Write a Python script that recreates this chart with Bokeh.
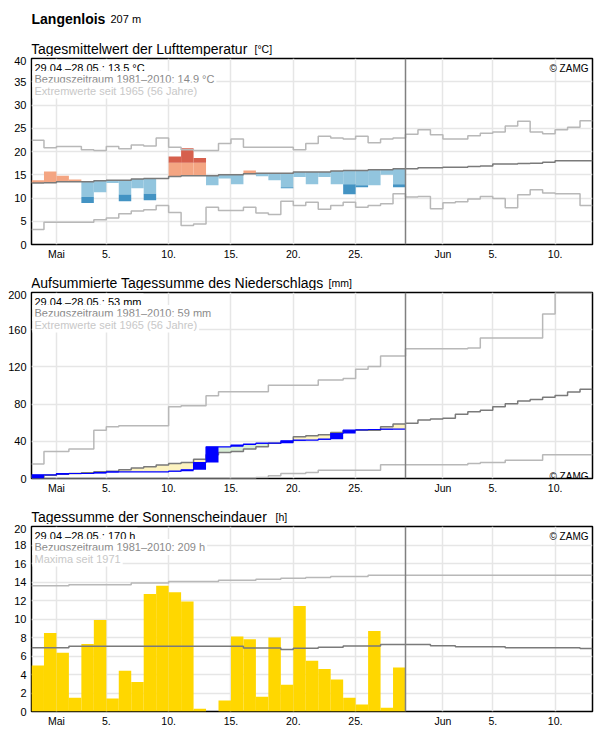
from datetime import date
from bokeh.plotting import figure
from bokeh.layouts import column
from bokeh.models import Range1d, FixedTicker, Label, Span
from bokeh.embed import file_html
from bokeh.resources import INLINE

FONT = "Liberation Sans"

# ---------------- data ----------------
start_day = date(2021, 4, 29)
today = date(2021, 5, 29)
end_day = date(2021, 6, 13)

tick_dates = [date(2021, 5, 1), date(2021, 5, 5), date(2021, 5, 10), date(2021, 5, 15),
              date(2021, 5, 20), date(2021, 5, 25), date(2021, 6, 1), date(2021, 6, 5),
              date(2021, 6, 10)]
tick_labels = ["Mai", "5.", "10.", "15.", "20.", "25.", "Jun", "5.", "10."]

station = "Langenlois"
altitude = "207 m"

# Temperature (daily mean, Apr 29 - May 28)
temp_values = [13.8, 15.7, 14.8, 14.0, 8.9, 11.25, 13.2, 9.3, 12.1, 9.5,
               14.2, 18.9, 20.7, 18.6, 12.76, 14.2, 12.97, 15.9, 14.7, 13.8,
               12.1, 14.5, 12.97, 14.5, 12.97, 10.8, 12.3, 12.76, 15.0, 12.3]
# start of the strong-deviation (dark) part of each bar, None = no dark part
temp_dark_from = [None, None, None, None, 10.2, None, None, 10.75, None, 10.9,
                  None, 17.6, 17.6, 17.6, None, None, None, None, None, None,
                  12.3, None, None, None, None, 12.97, 12.76, None, None, 12.97]
temp_clim = [13.2, 13.3, 13.5, 13.5, 13.5, 13.7, 13.8, 13.8, 14.1, 14.2,
             14.2, 14.6, 14.8, 14.8, 14.8, 15.0, 15.0, 15.2, 15.3, 15.3,
             15.3, 15.6, 15.6, 15.6, 15.8, 15.9, 15.9, 16.1, 16.1, 16.3,
             16.3, 16.5, 16.5, 16.6, 16.6, 16.8, 16.9, 17.3, 17.3, 17.4,
             17.5, 17.7, 18.0, 18.0, 18.0]
temp_max = [22.4, 20.8, 21.1, 21.1, 20.4, 20.2, 21.1, 20.6, 21.4, 21.2,
            22.9, 20.9, 20.4, 20.2, 20.2, 21.7, 22.7, 20.9, 20.9, 20.9,
            20.9, 20.4, 21.7, 23.3, 22.9, 22.7, 23.3, 21.9, 22.7, 22.9,
            23.7, 24.7, 23.6, 22.7, 22.7, 23.4, 23.9, 24.2, 25.5, 26.5,
            24.2, 23.8, 24.7, 25.2, 26.6]
temp_min = [3.2, 4.8, 4.8, 4.8, 4.8, 5.3, 5.7, 6.6, 7.2, 7.5,
            8.4, 6.9, 4.1, 4.4, 8.0, 7.3, 7.3, 8.0, 6.8, 6.45,
            9.3, 8.4, 9.1, 7.6, 8.4, 9.1, 8.0, 8.4, 8.75, 10.9,
            10.2, 10.3, 7.7, 9.0, 9.2, 9.8, 10.3, 9.9, 7.9, 10.7,
            11.8, 11.1, 10.9, 10.9, 8.4]
temp_ticks = [0, 5, 10, 15, 20, 25, 30, 35, 40]

# Precipitation, accumulated (mm)
precip_cum = [4.0, 4.0, 5.4, 5.4, 5.4, 6.4, 7.2, 7.2, 7.2, 7.2,
              7.2, 7.9, 9.4, 17.2, 34.1, 34.1, 35.9, 37.0, 38.0, 38.0,
              40.5, 41.3, 41.3, 42.3, 48.4, 52.0, 52.4, 52.7, 53.1, 53.1]
precip_clim = [1.1, 3.6, 4.7, 5.4, 6.1, 7.2, 7.9, 9.4, 11.2, 12.6,
               14.4, 16.2, 17.2, 20.8, 25.5, 28.0, 29.0, 31.6, 34.1, 38.0,
               39.1, 44.8, 45.9, 47.0, 49.5, 51.3, 52.0, 52.0, 55.6, 58.5,
               59.5, 62.8, 63.9, 64.9, 69.2, 71.7, 73.5, 77.1, 80.3, 83.2,
               85.0, 87.5, 89.2, 92.9, 96.1]
precip_max = [15.5, 29.0, 29.0, 31.6, 31.6, 52.0, 55.6, 56.7, 56.7, 56.7,
              56.7, 77.1, 78.2, 78.2, 88.9, 93.2, 93.2, 93.2, 93.2, 100.4,
              100.4, 100.4, 100.4, 105.8, 105.8, 107.5, 117.6, 120.4, 131.6, 131.6,
              139.5, 139.5, 139.5, 139.5, 139.5, 140.2, 151.0, 151.0, 151.0, 151.0,
              151.0, 176.8, 199.4, 199.4, 199.4]
precip_min = [0, 0, 0, 0, 0, 0, 0, 0, 0, 0,
              0, 0, 0, 0.4, 0.4, 0.4, 0.4, 0.4, 1.0, 2.9,
              5.4, 5.4, 6.4, 9.0, 9.0, 9.0, 9.0, 9.0, 14.7, 14.7,
              14.7, 14.7, 14.7, 14.7, 14.7, 16.1, 17.2, 17.2, 19.7, 19.7,
              19.7, 25.5, 25.5, 25.5, 25.5]
precip_ticks = [0, 40, 80, 120, 160, 200]

# Sunshine duration (h)
sun_values = [4.96, 8.5, 6.36, 1.5, 7.3, 9.9, 1.4, 4.4, 3.2, 12.7,
              13.6, 12.9, 11.9, 0.3, 0.0, 1.2, 8.1, 7.8, 1.6, 8.0,
              2.9, 11.4, 5.5, 4.6, 3.45, 1.5, 0.76, 8.7, 0.4, 4.75]
sun_clim = [6.9, 6.9, 6.9, 7.05, 7.05, 7.05, 7.05, 7.05, 7.05, 7.05,
            7.05, 7.05, 7.05, 7.05, 7.05, 7.05, 7.05, 6.87, 6.87, 6.87,
            6.69, 6.83, 6.83, 6.94, 6.94, 7.08, 7.08, 7.08, 7.25, 7.25,
            7.25, 7.25, 7.12, 7.12, 7.01, 7.01, 7.01, 7.01, 6.9, 6.9,
            6.9, 6.9, 6.9, 6.9, 6.8]
sun_max = [13.6, 13.6, 13.6, 13.7, 13.7, 13.7, 13.7, 13.7, 13.9, 13.9,
           13.9, 14.06, 14.06, 14.06, 14.06, 14.2, 14.2, 14.2, 14.3, 14.3,
           14.4, 14.4, 14.5, 14.5, 14.6, 14.6, 14.6, 14.73, 14.73, 14.73,
           14.73, 14.73, 14.73, 14.73, 14.73, 14.73, 14.73, 14.73, 14.73, 14.73,
           14.73, 14.73, 14.73, 14.73, 14.73]
sun_ticks = [0, 2, 4, 6, 8, 10, 12, 14, 16, 18, 20]

titles = ["Tagesmittelwert der Lufttemperatur",
          "Aufsummierte Tagessumme des Niederschlags",
          "Tagessumme der Sonnenscheindauer"]
units = ["[°C]", "[mm]", "[h]"]
info_temp = ["29.04.–28.05.: 13,5 °C", "Bezugszeitraum 1981–2010: 14,9 °C",
             "Extremwerte seit 1965 (56 Jahre)"]
info_precip = ["29.04.–28.05.: 53 mm", "Bezugszeitraum 1981–2010: 59 mm",
               "Extremwerte seit 1965 (56 Jahre)"]
info_sun = ["29.04.–28.05.: 170 h", "Bezugszeitraum 1981–2010: 209 h",
            "Maxima seit 1971"]
copyright_text = "© ZAMG"

# ---------------- layout helpers ----------------
N_DAYS = (end_day - start_day).days
today_x = (today - start_day).days
tick_pos = [(d - start_day).days for d in tick_dates]

W = 596
BL, BR = 31, 4
FRAME_W = W - BL - BR

C_CLIM = "#7a7a7a"
C_EXT = "#b8b8b8"
C_INFO = ["black", "#8a8a8a", "#c8c8c8"]


def make_panel(height, top, frame_h, ymax, yticks):
    p = figure(width=W, height=height, x_range=Range1d(0, N_DAYS), y_range=Range1d(0, ymax),
               output_backend="svg", toolbar_location=None,
               min_border_top=top, min_border_bottom=height - top - frame_h,
               min_border_left=BL, min_border_right=BR)
    p.outline_line_color = "black"
    p.outline_line_width = 1.5
    p.background_fill_color = "white"
    p.border_fill_color = "white"
    p.xaxis.ticker = FixedTicker(ticks=tick_pos)
    p.xaxis.major_label_overrides = {t: l for t, l in zip(tick_pos, tick_labels)}
    p.yaxis.ticker = FixedTicker(ticks=yticks)
    for ax in (p.xaxis[0], p.yaxis[0]):
        ax.axis_line_color = None
        ax.major_tick_line_color = None
        ax.minor_tick_line_color = None
        ax.major_tick_in = 0
        ax.major_tick_out = 0
        ax.minor_tick_in = 0
        ax.minor_tick_out = 0
        ax.major_label_text_font = FONT
        ax.major_label_text_color = "black"
    p.xaxis.major_label_text_font_size = "10.5px"
    p.yaxis.major_label_text_font_size = "11px"
    p.xaxis.major_label_standoff = 3
    p.yaxis.major_label_standoff = 5
    p.grid.grid_line_color = "#e6e6e6"
    p.grid.grid_line_width = 1.5
    p.add_layout(Span(location=today_x, dimension="height", line_color="#808080", line_width=1.5))
    p._frame_h = frame_h
    p._ymax = ymax
    return p


def make_text_strip(height):
    # frame aligned with the panels below: data x == canvas pixel x
    p = figure(width=W, height=height, x_range=Range1d(BL, W - BR), y_range=Range1d(0, height),
               output_backend="svg", toolbar_location=None,
               min_border_left=BL, min_border_right=BR, min_border_top=0, min_border_bottom=0,
               x_axis_type=None, y_axis_type=None)
    p.outline_line_color = None
    p.background_fill_color = "white"
    p.border_fill_color = "white"
    p.xgrid.visible = False
    p.ygrid.visible = False
    return p


def strip_text(p, x_px, y_from_bottom, s, size, color="black", style="normal"):
    p.add_layout(Label(x=x_px, y=y_from_bottom, text=s, text_font=FONT, text_font_size=size,
                       text_color=color, text_font_style=style, text_align="left",
                       text_baseline="alphabetic"))


def fx(px):
    return (px - BL) * N_DAYS / FRAME_W


def text(p, x_px, dy, s, size, color="black", align="left", bg=False):
    y = p._ymax - dy * p._ymax / p._frame_h
    kw = dict(x=fx(x_px), y=y, text=s, text_font=FONT, text_font_size=size,
              text_color=color, text_align=align, text_baseline="alphabetic")
    if bg:
        kw.update(background_fill_color="white", padding=2)
    p.add_layout(Label(**kw))


def steps(p, vals, color, width=1.5):
    xs = list(range(len(vals) + 1))
    ys = list(vals) + [vals[-1]]
    p.step(xs, ys, mode="after", line_color=color, line_width=width)


# ---------------- header + title strips ----------------
h1 = make_text_strip(56)
strip_text(h1, 31, 56 - 18.5, station, "14px", style="bold")
strip_text(h1, 110, 56 - 18.5, altitude, "11px")
h2 = make_text_strip(28)
h3 = make_text_strip(28)
unit_x = [254, 328, 275]
for h, t, u, ux in zip((h1, h2, h3), titles, units, unit_x):
    strip_text(h, 30.5, 7.2, t, "14px")
    strip_text(h, ux, 7.2, u, "10.5px")

# ---------------- panel 1: temperature ----------------
p1 = make_panel(206, 2, 186, 40, temp_ticks)
lq = dict(left=[], right=[], bottom=[], top=[], color=[])
dq = dict(left=[], right=[], bottom=[], top=[], color=[])
for i, v in enumerate(temp_values):
    c = temp_clim[i]
    d = temp_dark_from[i]
    above = v >= c
    edge = v if d is None else d
    lq["left"].append(i); lq["right"].append(i + 1)
    lq["bottom"].append(min(c, edge)); lq["top"].append(max(c, edge))
    lq["color"].append("#f4a582" if above else "#92c5de")
    if d is not None:
        dq["left"].append(i); dq["right"].append(i + 1)
        dq["bottom"].append(min(d, v)); dq["top"].append(max(d, v))
        dq["color"].append("#d6604d" if above else "#4393c3")
p1.quad(left=lq["left"], right=lq["right"], bottom=lq["bottom"], top=lq["top"],
        fill_color=lq["color"], line_color=None)
p1.quad(left=dq["left"], right=dq["right"], bottom=dq["bottom"], top=dq["top"],
        fill_color=dq["color"], line_color=None)
steps(p1, temp_max, C_EXT)
steps(p1, temp_min, C_EXT)
steps(p1, temp_clim, C_CLIM)

# ---------------- panel 2: precipitation ----------------
p2 = make_panel(206, 2, 186, 200, precip_ticks)
fq = dict(left=[], right=[], bottom=[], top=[], color=[])
bq = dict(left=[], right=[], bottom=[], top=[])
prev = 0.0
for i, v in enumerate(precip_cum):
    c = precip_clim[i]
    fq["left"].append(i); fq["right"].append(i + 1)
    fq["bottom"].append(min(c, v)); fq["top"].append(max(c, v))
    fq["color"].append("#fdf3c0" if v < c else "#d8eed6")
    if v > prev:
        bq["left"].append(i); bq["right"].append(i + 1)
        bq["bottom"].append(prev); bq["top"].append(v)
    prev = v
p2.quad(left=fq["left"], right=fq["right"], bottom=fq["bottom"], top=fq["top"],
        fill_color=fq["color"], line_color=None)
steps(p2, precip_max, C_EXT)
steps(p2, precip_min, C_EXT)
steps(p2, precip_clim, C_CLIM)
p2.quad(left=bq["left"], right=bq["right"], bottom=bq["bottom"], top=bq["top"],
        fill_color="#0000ff", line_color=None)
steps(p2, precip_cum, "#0000ff", width=1.2)

# ---------------- panel 3: sunshine ----------------
p3 = make_panel(205, 2, 185, 20, sun_ticks)
p3.quad(left=list(range(len(sun_values))), right=list(range(1, len(sun_values) + 1)),
        bottom=0, top=sun_values, fill_color="#ffd700", line_color=None)
steps(p3, sun_max, C_EXT)
steps(p3, sun_clim, C_CLIM)

# ---------------- info texts ----------------
for p, info in ((p1, info_temp), (p2, info_precip), (p3, info_sun)):
    for k, s in enumerate(info):
        text(p, 32, 9.0 + 11.5 * k, s, "11px", color=C_INFO[k], bg=True)

text(p1, 588, 10, copyright_text, "10px", align="right")
text(p2, 588, 184, copyright_text, "10px", align="right")
text(p3, 588, 10, copyright_text, "10px", align="right")

layout = column(h1, p1, h2, p2, h3, p3, spacing=0)
open("out.html", "w").write(file_html(layout, INLINE))
